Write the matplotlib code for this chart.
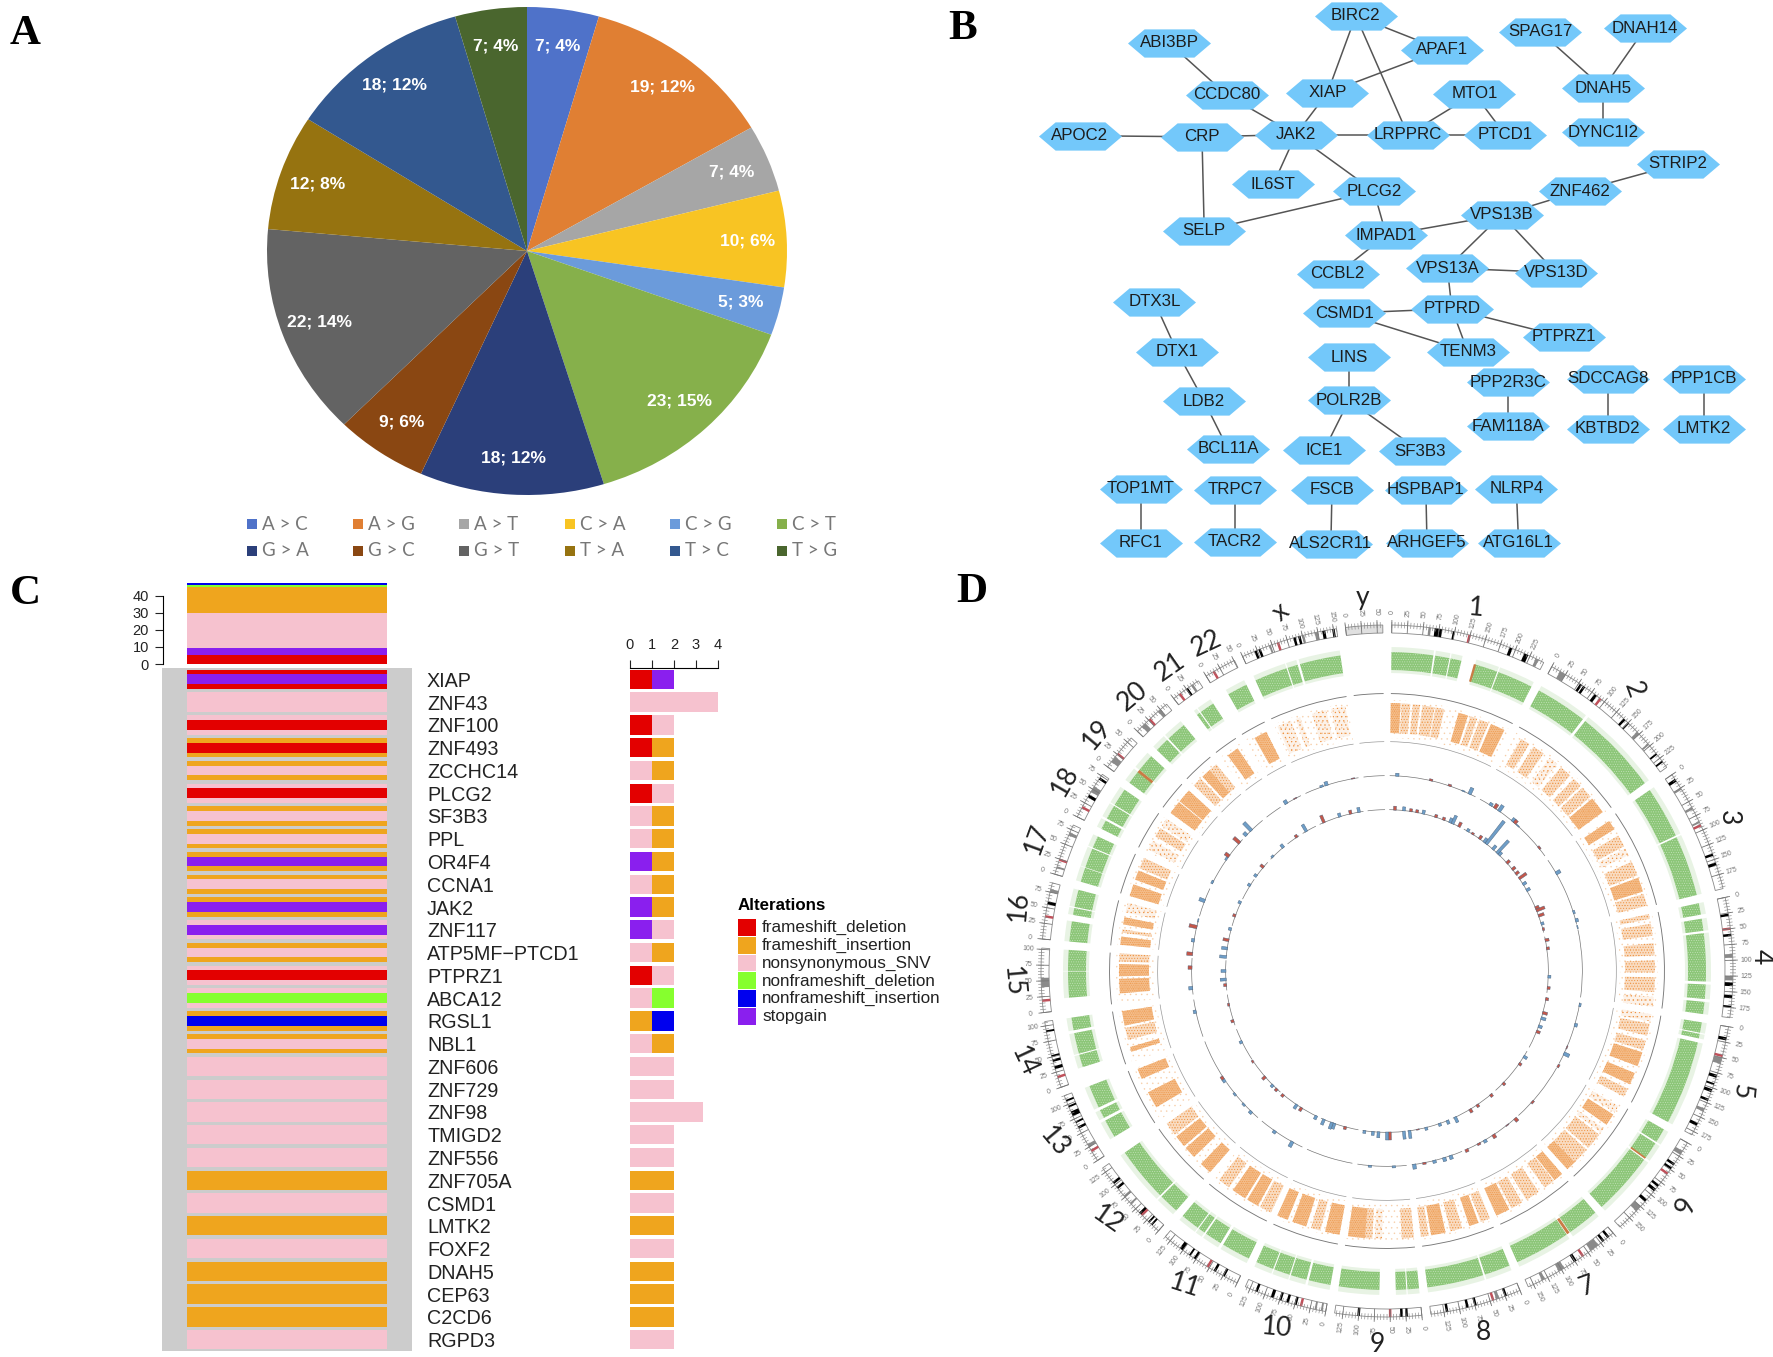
import numpy as np
import matplotlib
matplotlib.use("Agg")
import matplotlib.pyplot as plt
from matplotlib.path import Path

W, H = 1773, 1357
SANS = "Liberation Sans"
plt.rcParams["hatch.linewidth"] = 0.4

# panel A
PIE_NAMES = ["A > C", "A > G", "A > T", "C > A", "C > G", "C > T",
             "G > A", "G > C", "G > T", "T > A", "T > C", "T > G"]
PIE_COUNTS = [7, 19, 7, 10, 5, 23, 18, 9, 22, 12, 18, 7]
PIE_TEXT = ["7; 4%", "19; 12%", "7; 4%", "10; 6%", "5; 3%", "23; 15%",
            "18; 12%", "9; 6%", "22; 14%", "12; 8%", "18; 12%", "7; 4%"]
PIE_COLORS = ["#4F72C9", "#E07F33", "#A6A6A6", "#F8C423", "#6B9BDB", "#86B04B",
              "#2B3F7A", "#8A4712", "#636363", "#967310", "#33588F", "#4A662E"]

# panel B, positions at 1568 px wide
NODE_NAMES = ["BIRC2", "ABI3BP", "APAF1", "SPAG17", "DNAH14", "CCDC80", "XIAP", "MTO1", "DNAH5",
              "DYNC1I2", "APOC2", "CRP", "JAK2", "LRPPRC", "PTCD1", "STRIP2", "IL6ST", "PLCG2",
              "ZNF462", "VPS13B", "SELP", "IMPAD1", "VPS13A", "VPS13D", "CCBL2", "DTX3L", "CSMD1",
              "PTPRD", "PTPRZ1", "DTX1", "TENM3", "LINS", "PPP2R3C", "SDCCAG8", "PPP1CB", "LDB2",
              "POLR2B", "FAM118A", "KBTBD2", "LMTK2", "BCL11A", "ICE1", "SF3B3", "TOP1MT", "TRPC7",
              "FSCB", "HSPBAP1", "NLRP4", "RFC1", "TACR2", "ALS2CR11", "ARHGEF5", "ATG16L1"]
NODE_X = [1199, 1034, 1275, 1362, 1455, 1085, 1174, 1304, 1418, 1418, 955, 1063, 1146, 1245, 1331,
          1484, 1126, 1215, 1397, 1328, 1065, 1226, 1280, 1376, 1183, 1021, 1189, 1284, 1383, 1041,
          1298, 1193, 1334, 1422, 1507, 1065, 1193, 1334, 1422, 1507, 1086, 1171, 1256, 1009, 1092,
          1178, 1261, 1341, 1009, 1092, 1177, 1262, 1343]
NODE_Y = [14, 38, 44, 28, 25, 84, 82, 83, 78, 117, 120, 121, 119, 119, 119, 145, 163, 169, 169, 190,
          204, 208, 237, 241, 242, 267, 277, 273, 298, 311, 311, 316, 338, 335, 335, 355, 354, 377,
          379, 379, 397, 398, 399, 432, 433, 433, 433, 432, 480, 479, 481, 480, 480]
EDGES = [("ABI3BP", "CCDC80"), ("CCDC80", "JAK2"), ("XIAP", "JAK2"), ("BIRC2", "XIAP"),
         ("BIRC2", "LRPPRC"), ("BIRC2", "APAF1"), ("APAF1", "XIAP"), ("JAK2", "LRPPRC"),
         ("LRPPRC", "PTCD1"), ("MTO1", "LRPPRC"), ("MTO1", "PTCD1"), ("SPAG17", "DNAH5"),
         ("DNAH14", "DNAH5"), ("DNAH5", "DYNC1I2"), ("APOC2", "CRP"), ("CRP", "JAK2"),
         ("CRP", "SELP"), ("JAK2", "IL6ST"), ("JAK2", "PLCG2"), ("PLCG2", "SELP"),
         ("PLCG2", "IMPAD1"), ("IMPAD1", "VPS13B"), ("IMPAD1", "CCBL2"), ("VPS13B", "ZNF462"),
         ("ZNF462", "STRIP2"), ("VPS13B", "VPS13A"), ("VPS13B", "VPS13D"), ("VPS13A", "VPS13D"),
         ("VPS13A", "PTPRD"), ("PTPRD", "CSMD1"), ("PTPRD", "TENM3"), ("PTPRD", "PTPRZ1"),
         ("CSMD1", "TENM3"), ("DTX3L", "DTX1"), ("DTX1", "LDB2"), ("LDB2", "BCL11A"),
         ("LINS", "POLR2B"), ("POLR2B", "ICE1"), ("POLR2B", "SF3B3"), ("PPP2R3C", "FAM118A"),
         ("SDCCAG8", "KBTBD2"), ("PPP1CB", "LMTK2"), ("TOP1MT", "RFC1"), ("TRPC7", "TACR2"),
         ("FSCB", "ALS2CR11"), ("HSPBAP1", "ARHGEF5"), ("NLRP4", "ATG16L1")]

# panel C
GENES = ["XIAP", "ZNF43", "ZNF100", "ZNF493", "ZCCHC14", "PLCG2", "SF3B3", "PPL", "OR4F4", "CCNA1",
         "JAK2", "ZNF117", "ATP5MF\u2212PTCD1", "PTPRZ1", "ABCA12", "RGSL1", "NBL1", "ZNF606", "ZNF729",
         "ZNF98", "TMIGD2", "ZNF556", "ZNF705A", "CSMD1", "LMTK2", "FOXF2", "DNAH5", "CEP63",
         "C2CD6", "RGPD3"]
ALTERATIONS = ["frameshift_deletion", "frameshift_insertion", "nonsynonymous_SNV",
               "nonframeshift_deletion", "nonframeshift_insertion", "stopgain"]
ALT_COLORS = ["#E30000", "#EFA51E", "#F6C2CF", "#86FF2E", "#0000EE", "#8A1FEE"]
# codes index ALTERATIONS: 0 del, 1 ins, 2 snv, 3 nf del, 4 nf ins, 5 stop
CELL_OUTER = [0, 2, 2, 1, 1, 2, 1, 1, 1, 1, 1, 2, 1, 2, 2, 1, 1, 2, 2, 2, 2, 2, 1, 2, 1, 2, 1, 1, 1, 2]
CELL_INNER = [5, 2, 0, 0, 2, 0, 2, 2, 5, 2, 5, 5, 2, 0, 3, 4, 2, 2, 2, 2, 2, 2, 1, 2, 1, 2, 1, 1, 1, 2]
BAR_FIRST = [0, 2, 0, 0, 2, 0, 2, 2, 5, 2, 5, 5, 2, 0, 2, 1, 2, 2, 2, 2, 2, 2, 1, 2, 1, 2, 1, 1, 1, 2]
BAR_FIRST_N = [1, 4, 1, 1, 1, 1, 1, 1, 1, 1, 1, 1, 1, 1, 1, 1, 1, 2, 2, 3.3, 2, 2, 2, 2, 2, 2, 2, 2, 2, 2]
BAR_SECOND = [5, 2, 2, 1, 1, 2, 1, 1, 1, 1, 1, 2, 1, 2, 3, 4, 1, 2, 2, 2, 2, 2, 1, 2, 1, 2, 1, 1, 1, 2]
BAR_SECOND_N = [1, 0, 1, 1, 1, 1, 1, 1, 1, 1, 1, 1, 1, 1, 1, 1, 1, 0, 0, 0, 0, 0, 0, 0, 0, 0, 0, 0, 0, 0]
STACK_ORDER = [0, 5, 2, 1, 3, 4]
STACK_VALUES = [5.5, 4, 20.5, 15, 1, 1.4]

# panel D
CHROMS = ["1", "2", "3", "4", "5", "6", "7", "8", "9", "10", "11", "12", "13", "14", "15", "16",
          "17", "18", "19", "20", "21", "22", "x", "y"]
CHROM_MB = [249, 243, 198, 191, 181, 171, 159, 146, 138, 133, 135, 133, 115, 107, 102, 90, 83, 78,
            59, 63, 48, 51, 155, 59]
CHROM_LABEL_ROT = [-5, -70, -90, -90, -95, -110, 20, 0, 0, -5, -18, -35, -50, -65, -85, 85, 70, 60,
                   50, 40, 35, 25, 40, 0]
BLACK_BANDS = {
    0: [(68, 80), (97, 100), (190, 195), (215, 222)], 1: [(52, 56), (58, 62), (80, 85), (140, 144), (149, 152), (215, 218), (230, 233)],
    2: [(8, 13), (140, 144), (155, 160)], 3: [(26, 30), (58, 62), (135, 141), (155, 160), (172, 175)],
    4: [(17, 22), (78, 83), (92, 95), (102, 107), (118, 122), (160, 165)], 5: [(38, 42), (46, 50), (80, 84), (88, 93), (110, 115)],
    6: [(8, 12), (18, 22), (72, 77)], 7: [(22, 26), (72, 76), (85, 89), (118, 122)], 8: [(22, 26), (30, 34), (98, 102)],
    9: [(47, 51), (60, 64), (72, 76), (85, 90), (112, 116)], 10: [(22, 26), (38, 42), (75, 79), (85, 88), (100, 106)],
    11: [(13, 16), (19, 22), (37, 42), (92, 96), (102, 106)], 12: [(58, 62), (68, 71), (80, 88), (95, 98), (105, 108)],
    13: [(30, 35), (42, 46), (50, 53), (90, 93)], 15: [(55, 60)], 17: [(35, 40), (68, 72)], 20: [(24, 28)],
    22: [(20, 24), (27, 31), (85, 89), (93, 97), (132, 137), (148, 152)],
}
GREY_BANDS = {
    0: [(58, 62), (235, 240)], 1: [(15, 25), (170, 175), (195, 198)], 2: [(25, 28), (60, 64), (85, 88)], 3: [(90, 96), (125, 132)],
    4: [(50, 60), (135, 140)], 5: [(15, 22), (125, 135)], 6: [(30, 45), (95, 105), (130, 135)], 7: [(35, 40)],
    9: [(5, 8), (15, 18)], 11: [(60, 63), (75, 78)], 12: [(25, 30)], 14: [(40, 55)], 15: [(75, 80)], 16: [(10, 13), (65, 70)],
    17: [(45, 55)], 18: [(10, 20)], 19: [(10, 18), (45, 50)], 20: [(34, 38)], 22: [(45, 48), (100, 103), (120, 125)],
}
CENTROMERES = [124, 92, 92, 50, 47, 58, 60, 45, 50, 40, 53, 36, 18, 17, 19, 36, 24, 17, 26, 27, 12, 14, 60]
GREEN_BLOCKS = [
    [(0, 72), (75, 100), (102, 121), (145, 185), (187, 249)], [(0, 90), (95, 243)], [(0, 90), (93, 198)],
    [(0, 20), (27, 48), (52, 135), (140, 165), (170, 191)], [(0, 18), (20, 28), (35, 181)], [(0, 25), (28, 58), (62, 171)],
    [(0, 55), (62, 159)], [(0, 45), (48, 146)], [(0, 20), (22, 40), (68, 138)], [(0, 38), (42, 70), (72, 100), (102, 133)],
    [(0, 50), (55, 85), (88, 100), (102, 135)], [(0, 35), (38, 133)], [(18, 50), (55, 70), (75, 115)], [(20, 42), (44, 80), (85, 107)],
    [(20, 65), (66, 102)], [(0, 35), (46, 58), (60, 90)], [(0, 25), (26, 60), (62, 83)], [(0, 16), (20, 45), (47, 78)],
    [(0, 24), (28, 59)], [(0, 25), (28, 63)], [(14, 20), (22, 48)], [(16, 51)], [(3, 60), (62, 80), (84, 155)], [],
]
GREEN_RUST = [(0, 143, 147), (18, 23, 28), (6, 56, 61), (5, 57, 60)]
ORANGE_CLUSTERS = [
    [(0, 20, 3), (22, 40, 2), (45, 60, 2), (65, 90, 2), (92, 110, 2), (140, 160, 3), (165, 180, 2), (185, 205, 2), (210, 240, 3)],
    [(15, 35, 2), (45, 70, 2), (85, 105, 1), (115, 140, 2), (150, 170, 2), (175, 200, 2), (205, 240, 3)],
    [(5, 25, 3), (40, 65, 2), (70, 85, 1), (100, 130, 2), (135, 165, 3), (170, 195, 2)],
    [(0, 10, 2), (20, 45, 2), (60, 85, 2), (95, 120, 2), (130, 160, 2), (170, 190, 1)],
    [(0, 15, 1), (20, 45, 2), (55, 75, 2), (80, 110, 3), (125, 150, 3), (160, 178, 2)],
    [(5, 20, 1), (25, 50, 3), (60, 70, 1), (75, 110, 2), (115, 150, 2), (150, 171, 3)],
    [(0, 20, 3), (22, 45, 2), (60, 90, 2), (100, 125, 2), (130, 159, 3)],
    [(0, 20, 2), (25, 45, 3), (60, 85, 2), (95, 125, 3), (130, 146, 2)],
    [(0, 25, 2), (65, 80, 1), (85, 100, 2), (100, 135, 3)],
    [(0, 30, 3), (40, 60, 2), (70, 100, 3), (110, 133, 3)],
    [(0, 25, 2), (30, 55, 3), (60, 90, 3), (100, 125, 2)],
    [(0, 25, 3), (45, 70, 3), (75, 100, 3), (105, 133, 2)],
    [(25, 60, 3), (90, 112, 3)],
    [(20, 30, 3), (45, 70, 2), (75, 105, 3)],
    [(20, 50, 3), (55, 80, 3), (85, 102, 2)],
    [(3, 20, 3), (28, 35, 2), (45, 60, 3), (70, 90, 1)],
    [(0, 25, 3), (35, 55, 3), (60, 83, 2)],
    [(5, 25, 1), (35, 55, 2), (60, 78, 1)],
    [(0, 28, 3), (30, 59, 3)],
    [(0, 20, 2), (25, 45, 3), (45, 63, 2)],
    [(15, 40, 3)],
    [(18, 45, 3)],
    [(5, 35, 1), (45, 55, 1), (80, 110, 1), (120, 150, 1)],
    [],
]
# (angle clockwise from north in degrees, height in px, b=blue r=red)
RING3_BARS = [(3, 3, "b"), (13, 2, "r"), (18.7, 2, "r"), (23, 1, "b"), (25, 7, "b"), (32, 3, "b"), (33.5, 5, "r"), (35, 7, "b"),
              (40, 4, "b"), (40.8, 4, "r"), (42, 1, "b"), (51, 2, "r"), (60, 5, "b"), (72.5, 2, "b"), (75, 3, "b"),
              (77, 1, "b"), (100, 2, "b"), (106, 3, "b"), (113, 1, "r"), (115, 6, "b"), (119, 2, "r"), (132, 2, "r"),
              (139, 4, "r"), (142, 1, "r"), (147, 4, "r"), (150, 3, "b"), (152, 2, "r"), (156, 3, "r"), (161, 4, "b"),
              (163, 4, "b"), (166, 3, "b"), (169, 2, "r"), (172, 5, "b"), (178, 2, "b"), (185, 2, "b"), (209, 6, "b"),
              (215, 3, "b"), (224, 3, "b"), (227, 2, "b"), (231, 2, "b"), (236, 3, "b"), (237, 3, "r"), (258, 3, "b"),
              (265, 4, "b"), (271, 4, "r"), (275, 6, "r"), (279, 3, "b"), (283, 8, "r"), (285, 1, "b"), (291, 6, "b"),
              (297, 2, "b"), (305, 2, "b"), (306, 5, "r"), (311, 8, "r"), (314, 4, "b"), (316, 11, "b"), (329, 4, "b"),
              (332, 1, "r"), (340.5, 2, "b"), (342, 4, "b"), (350, 1, "r")]
RING4_BARS = [(2.8, 4, "r"), (6, 4, "b"), (8.5, 3, "r"), (10.7, 3, "r"), (13, 4, "b"), (17.6, 3, "r"), (20.5, 3, "r"), (23, 5, "b"),
              (24, 9, "b"), (26.5, 5, "r"), (30, 3, "b"), (32, 2, "r"), (35, 4, "r"), (37, 5, "b"), (38, 29, "b"),
              (41, 5, "b"), (43, 17, "b"), (44, 4, "b"), (48, 4, "r"), (51, 4, "r"), (53, 4, "r"), (55, 9, "r"),
              (57.5, 4, "b"), (60, 4, "b"), (67, 4, "r"), (68, 9, "r"), (70, 6, "r"), (73, 3, "b"), (75, 2, "r"),
              (79, 4, "r"), (82, 3, "r"), (92, 3, "b"), (96, 3, "r"), (100, 3, "r"), (105, 5, "r"), (107, 5, "b"),
              (110, 4, "b"), (112, 4, "r"), (122, 4, "b"), (125, 3, "r"), (134, 3, "r"), (140, 3, "r"), (146, 3, "r"),
              (149, 4, "r"), (155, 6, "b"), (158, 4, "b"), (161, 3, "b"), (166, 3, "b"), (169, 1, "r"), (172, 8, "b"),
              (174, 8, "b"), (179, 8, "r"), (180, 8, "b"), (183, 6, "b"), (185, 4, "b"), (188, 3, "b"), (195, 3, "r"),
              (199, 6, "b"), (200, 7, "b"), (203, 6, "b"), (206, 4, "b"), (212, 4, "r"), (214, 5, "b"), (220, 3, "r"),
              (223, 3, "r"), (225, 3, "b"), (229, 4, "r"), (236, 2, "r"), (244, 3, "b"), (252, 3, "r"), (258, 2, "r"),
              (265, 3, "r"), (267, 6, "b"), (270, 5, "b"), (275, 7, "b"), (278, 6, "b"), (281, 6, "r"), (285, 3, "b"),
              (290, 3, "r"), (295, 3, "b"), (302, 3, "b"), (306, 3, "b"), (310, 4, "r"), (315, 2, "b"), (320, 4, "b"),
              (326, 3, "r"), (330, 8, "b"), (337, 8, "r"), (343, 4, "b"), (347, 4, "r"), (350, 5, "b")]


def px_rect(x0, y0, x1, y1):
    return [x0 / W, 1 - y1 / H, (x1 - x0) / W, (y1 - y0) / H]


def draw_canvas(fig):
    ax = fig.add_axes([0, 0, 1, 1])
    ax.set_xlim(0, W)
    ax.set_ylim(H, 0)
    ax.axis("off")
    for letter, x, y in [("A", 25, 34), ("B", 963, 29), ("C", 25, 594), ("D", 972, 592)]:
        ax.text(x, y, letter, family="Liberation Serif", weight="bold", fontsize=31, ha="center", va="center")

    # pie legend
    xs = [252, 358, 464, 570, 675, 782]
    for i, name in enumerate(PIE_NAMES):
        x = xs[i % 6]
        y = 524 if i < 6 else 551
        ax.scatter([x], [y], marker="s", s=58, color=PIE_COLORS[i], linewidths=0)
        ax.text(x + 10, y, name, family="Lato", fontsize=13.5, color="#777777", va="center")

    # oncoplot legend
    ax.text(738, 906, "Alterations", family=SANS, weight="bold", fontsize=12.2, va="center")
    for i, name in enumerate(ALTERATIONS):
        y = 919 + 17.8 * i
        ax.bar(747, 16.8, width=18, bottom=y, color=ALT_COLORS[i])
        ax.text(762, y + 8.6, name, family=SANS, fontsize=12.3, color="#222222", va="center")
    return ax


def draw_pie(fig):
    # the reference pie is slightly squashed: 260 px wide radius, 244 px high
    ax = fig.add_axes(px_rect(527 - 260, 251 - 244, 527 + 260, 251 + 244))
    ax.pie(PIE_COUNTS, colors=PIE_COLORS, startangle=90, counterclock=False, labels=PIE_TEXT,
           labeldistance=0.85, radius=1,
           textprops=dict(color="white", weight="bold", family=SANS, fontsize=12.5, ha="center", va="center"))
    ax.set_aspect("auto")
    ax.set_xlim(-1, 1)
    ax.set_ylim(-1, 1)


def draw_network(ax):
    sx = W / 1568
    sy = H / 1200
    pos = {n: (x * sx, y * sy) for n, x, y in zip(NODE_NAMES, NODE_X, NODE_Y)}
    for a, b in EDGES:
        ax.plot([pos[a][0], pos[b][0]], [pos[a][1], pos[b][1]], color="#555555", lw=1.1, zorder=1)
    hexagon = Path([(-1, 0), (-0.6, 0.34), (0.6, 0.34), (1, 0), (0.6, -0.34), (-0.6, -0.34), (-1, 0)], closed=True)
    px = [p[0] for p in pos.values()]
    py = [p[1] for p in pos.values()]
    ax.scatter(px, py, marker=hexagon, s=(83 * 0.72) ** 2, color="#73C8FA", linewidths=0, zorder=2)
    for name, (x, y) in pos.items():
        ax.text(x, y, name, family=SANS, fontsize=12.2, color="#1c1c1c", ha="center", va="center", zorder=3)


def draw_oncoplot(fig):
    rows = np.arange(len(GENES))

    # mutation matrix
    ax = fig.add_axes(px_rect(162, 668, 412, 1351))
    ax.set_facecolor("#CCCCCC")
    ax.barh(rows, 1, height=0.85, color=[ALT_COLORS[c] for c in CELL_OUTER])
    ax.barh(rows, 1, height=0.43, color=[ALT_COLORS[c] for c in CELL_INNER])
    ax.set_xlim(-0.125, 1.125)
    ax.set_ylim(len(GENES) - 0.5, -0.5)
    ax.set_xticks([])
    ax.yaxis.tick_right()
    ax.set_yticks(rows, GENES, family=SANS, fontsize=14.2, color="#222222")
    ax.tick_params(axis="y", length=0, pad=10.8)
    for s in ax.spines.values():
        s.set_visible(False)

    # stacked bar on top
    top = fig.add_axes(px_rect(187, 583, 387, 664))
    bottom = 0
    for code, v in zip(STACK_ORDER, STACK_VALUES):
        top.bar(0.5, v, width=1, bottom=bottom, color=ALT_COLORS[code])
        bottom += v
    top.set_xlim(0, 1)
    top.set_ylim(0, bottom)
    top.set_xticks([])
    top.set_yticks([0, 10, 20, 30, 40])
    top.tick_params(axis="y", labelsize=10.5, length=5.8, width=0.8, pad=4, color="#222222", labelcolor="#222222")
    for name in ["top", "right", "bottom"]:
        top.spines[name].set_visible(False)
    top.spines["left"].set_position(("outward", 17.5))
    top.spines["left"].set_bounds(0, 40)
    top.patch.set_alpha(0)
    for t in top.get_yticklabels():
        t.set_family(SANS)

    # gene counts on the right
    side = fig.add_axes(px_rect(630, 668, 718, 1351))
    side.barh(rows, BAR_FIRST_N, height=0.85, color=[ALT_COLORS[c] for c in BAR_FIRST])
    side.barh(rows, BAR_SECOND_N, left=BAR_FIRST_N, height=0.85, color=[ALT_COLORS[c] for c in BAR_SECOND])
    side.set_xlim(0, 4)
    side.set_ylim(len(GENES) - 0.5, -0.5)
    side.set_yticks([])
    side.xaxis.tick_top()
    side.set_xticks([0, 1, 2, 3, 4])
    side.tick_params(axis="x", labelsize=10.5, length=5.5, width=0.8, pad=6, color="#222222", labelcolor="#222222")
    for t in side.get_xticklabels():
        t.set_family(SANS)
    for name in ["left", "right", "bottom"]:
        side.spines[name].set_visible(False)
    side.spines["top"].set_linewidth(0.8)
    side.patch.set_alpha(0)


def draw_circos(fig):
    cx, cy, rmax = 1387, 971, 388
    ax = fig.add_axes(px_rect(cx - rmax, cy - rmax, cx + rmax, cy + rmax), polar=True)
    ax.set_theta_zero_location("N")
    ax.set_theta_direction(-1)
    ax.set_ylim(0, rmax)
    ax.axis("off")

    gap = 1.5
    per_mb = (360 - gap * len(CHROMS)) / sum(CHROM_MB)
    starts = 0.8 + np.concatenate([[0], np.cumsum(np.array(CHROM_MB) * per_mb + gap)[:-1]])

    def ang(i, mb):
        return np.radians(starts[i] + np.asarray(mb) * per_mb)

    def arc(i, a, b, r, h, **kw):
        ax.bar(ang(i, a), h, width=np.radians((b - a) * per_mb), bottom=r, align="edge", linewidth=0, **kw)

    for i, (name, size) in enumerate(zip(CHROMS, CHROM_MB)):
        # ideogram
        ax.bar(ang(i, 0), 8, width=np.radians(size * per_mb), bottom=338, align="edge",
               facecolor="#E0E0E0" if name == "y" else "white", edgecolor="#888888", linewidth=0.6)
        for a, b in GREY_BANDS.get(i, []):
            arc(i, a, b, 338, 8, color="#8A8A8A")
        for a, b in BLACK_BANDS.get(i, []):
            arc(i, a, b, 338, 8, color="black")
        if i < len(CENTROMERES):
            c = CENTROMERES[i]
            arc(i, c - 2, c + 2, 338, 8, color="#C0505A")
        minor = np.arange(0, size + 1, 5)
        major = np.arange(0, size + 1, 25)
        ax.vlines(ang(i, minor), 343, 349, color="#888888", lw=0.45)
        ax.vlines(ang(i, major), 338, 351, color="#777777", lw=0.6)
        for mb in major:
            deg = starts[i] + mb * per_mb
            rot = 90 - deg if deg < 180 else 270 - deg
            ax.text(np.radians(deg), 359, str(mb), family=SANS, fontsize=5, color="#777777",
                    rotation=rot, rotation_mode="anchor", ha="center", va="center")
        mid = np.radians(starts[i] + size * per_mb / 2)
        ax.text(mid, 374, name, family="Lato", fontsize=19, color="#222222",
                rotation=CHROM_LABEL_ROT[i], rotation_mode="anchor", ha="center", va="center")

        # green track, dots of white keep it from reading as a solid block
        for a, b in GREEN_BLOCKS[i]:
            arc(i, a, b, 301, 18, color="#8CC678")
            arc(i, a, b, 301, 18, facecolor="none", edgecolor="white", hatch=".......", alpha=0.45)
            arc(i, a, b, 319, 5, color="#8CC678", alpha=0.2)
            arc(i, a, b, 298, 3, color="#8CC678", alpha=0.2)

        # orange track
        arc(i, 0, size, 277, 0.9, color="#777777")
        arc(i, 0, size, 229, 0.7, color="#999999")
        if ORANGE_CLUSTERS[i]:
            arc(i, 0, size, 233, 38, facecolor="none", edgecolor="#EE9A4D", hatch="...", alpha=0.35)
        for a, b, level in ORANGE_CLUSTERS[i]:
            arc(i, a, b, 238, 30, facecolor="none", edgecolor="#EE8E3A",
                hatch={1: "....", 2: "......", 3: "........."}[level])
            arc(i, a, b, 238, 30, color="#EE9A4D", alpha={1: 0.12, 2: 0.35, 3: 0.65}[level])

        # histogram baselines
        arc(i, 0, size, 195, 0.7, color="#777777")
        arc(i, 0, size, 161, 0.7, color="#777777")

    for i, a, b in GREEN_RUST:
        arc(i, a, b, 301, 18, color="#C97C45")

    for bars, base in [(RING3_BARS, 195), (RING4_BARS, 161)]:
        angles = np.radians([b[0] for b in bars])
        heights = [b[1] for b in bars]
        colors = ["#6E9EC8" if b[2] == "b" else "#C4574A" for b in bars]
        ax.bar(angles, heights, width=np.radians(1.0), bottom=base, color=colors, edgecolor="#4A6078", linewidth=0.3)


def main():
    fig = plt.figure(figsize=(W / 100, H / 100), dpi=100, facecolor="white")
    canvas = draw_canvas(fig)
    draw_pie(fig)
    draw_network(canvas)
    draw_oncoplot(fig)
    draw_circos(fig)
    fig.savefig("out.png", dpi=100)
    plt.close(fig)


if __name__ == "__main__":
    main()
